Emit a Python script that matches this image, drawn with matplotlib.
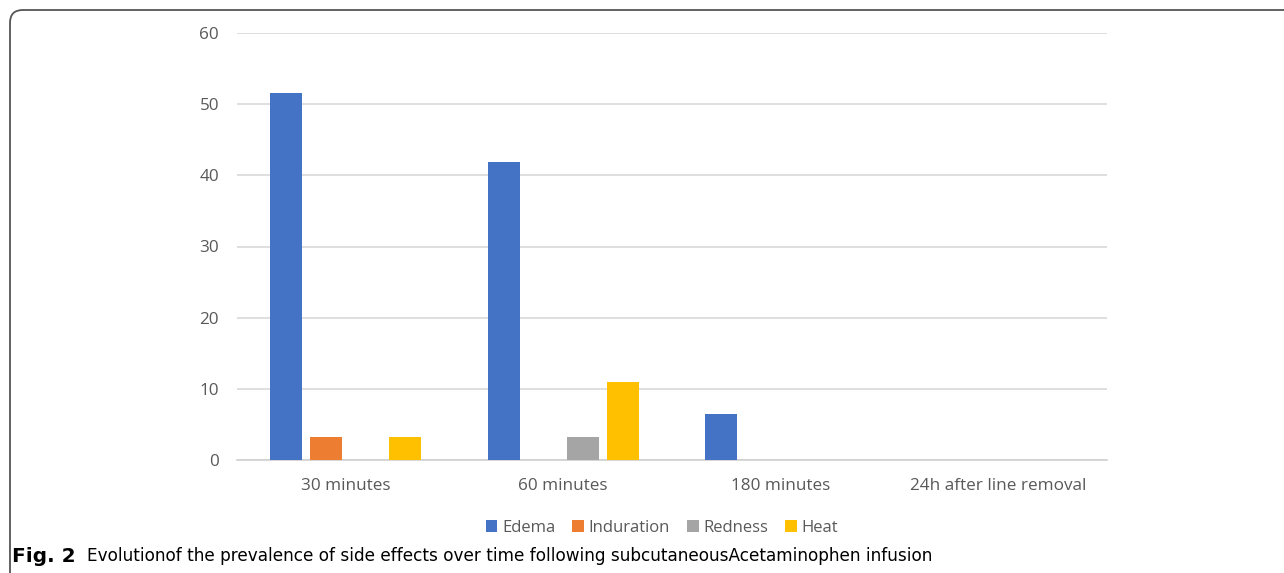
import numpy as np
import matplotlib.pyplot as plt
from matplotlib.patches import FancyBboxPatch

categories = ['30 minutes', '60 minutes', '180 minutes', '24h after line removal']
series = ['Edema', 'Induration', 'Redness', 'Heat']
edema = [51.6, 41.9, 6.5, 0]
induration = [3.2, 0, 0, 0]
redness = [0, 3.2, 0, 0]
heat = [3.2, 11.0, 0, 0]
colors = ['#4472c4', '#ed7d31', '#a5a5a5', '#ffc000']

W, H = 1284, 573
fig = plt.figure(figsize=(W / 100, H / 100), dpi=100)
plt.rcParams['font.family'] = ['Open Sans', 'DejaVu Sans']

ax = fig.add_axes([237 / W, 1 - 460 / H, 870 / W, 427 / H])

x = np.arange(len(categories))
step = 0.182
bw = 0.147
for i, (name, vals) in enumerate(zip(series, [edema, induration, redness, heat])):
    ax.bar(x + (i - 1.5) * step, vals, width=bw, color=colors[i], label=name, zorder=3)

ax.set_xlim(-0.5, len(categories) - 0.5)
ax.set_ylim(0, 60)
ax.set_yticks(range(0, 61, 10))
ax.set_xticks(x)
ax.set_xticklabels(categories)
ax.yaxis.grid(True, color='#d9d9d9', linewidth=1.2, zorder=0)
for s in ['top', 'right', 'left']:
    ax.spines[s].set_visible(False)
ax.spines['bottom'].set_color('#d0d0d0')
ax.spines['bottom'].set_linewidth(1.2)
ax.tick_params(axis='both', length=0, colors='#595959', labelsize=12.3)
ax.tick_params(axis='y', pad=13)
ax.tick_params(axis='x', pad=13)

leg = fig.legend(loc='center', bbox_to_anchor=(662 / W, 1 - 528 / H), ncol=4,
                 frameon=False, fontsize=12, handlelength=0.7, handleheight=0.7,
                 handletextpad=0.3, columnspacing=1.0)
for t in leg.get_texts():
    t.set_color('#595959')

# caption
fig.text(12 / W, 1 - 556 / H, 'Fig. 2', fontsize=14.5, fontweight='bold', va='center',
         family='DejaVu Sans')
fig.text(87 / W, 1 - 556 / H,
         'Evolutionof the prevalence of side effects over time following subcutaneousAcetaminophen infusion',
         fontsize=12.2, va='center', family='DejaVu Sans')

# rounded frame that runs off the right and bottom edges
frame = FancyBboxPatch((10 / W, -0.2), 1.3, 1 - 10 / H + 0.2,
                       boxstyle='round,pad=0,rounding_size=0.01',
                       transform=fig.transFigure, fill=False,
                       edgecolor='#555555', linewidth=1.3, clip_on=False,
                       mutation_aspect=W / H)
fig.patches.append(frame)

fig.savefig('out.png', dpi=100)
